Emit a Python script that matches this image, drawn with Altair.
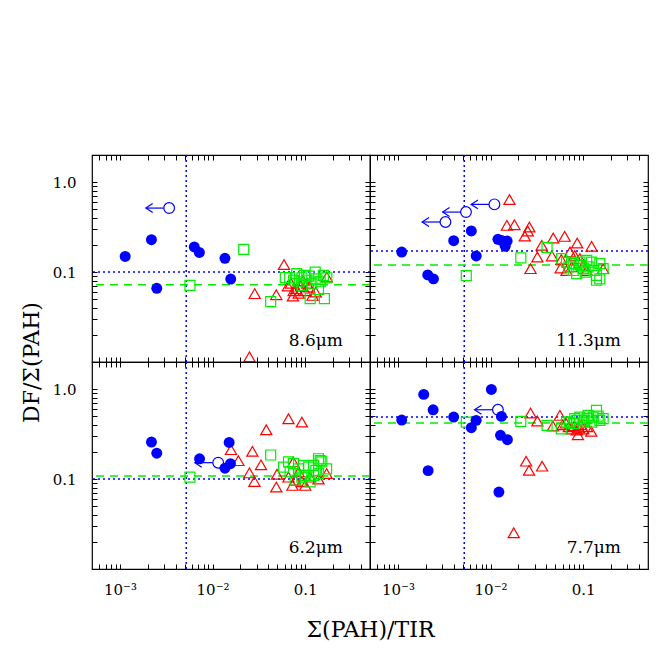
import altair as alt
import pandas as pd

# ---------------- data ----------------
X_DOMAIN = [5e-4, 0.5]
Y_DOMAIN = [0.01, 2.0]
PANEL_LABELS = ["8.6μm", "11.3μm", "6.2μm", "7.7μm"]
VLINE_X = 0.0052
BLUE_LEVEL = [0.100, 0.171, 0.100, 0.490]
GREEN_LEVEL = [0.072, 0.120, 0.108, 0.420]

# 8.6 um
p86_det_x = [0.00114, 0.00219, 0.00250, 0.00635, 0.00720, 0.0136, 0.0157]
p86_det_y = [0.149, 0.229, 0.066, 0.190, 0.165, 0.142, 0.0836]
p86_lim_x = [0.0034]
p86_lim_y = [0.514]
p86_sq_x = [0.0057, 0.0217, 0.0424, 0.061, 0.068, 0.081, 0.075, 0.092, 0.104, 0.109, 0.128,
            0.128, 0.157, 0.171, 0.139, 0.113, 0.161, 0.092, 0.086, 0.118, 0.098, 0.145]
p86_sq_y = [0.071, 0.179, 0.047, 0.087, 0.086, 0.096, 0.081, 0.086, 0.081, 0.090, 0.100,
            0.084, 0.092, 0.086, 0.064, 0.0506, 0.0506, 0.071, 0.078, 0.074, 0.092, 0.078]
p86_tri_x = [0.025, 0.0285, 0.0487, 0.059, 0.0736, 0.171, 0.070, 0.080, 0.085, 0.090, 0.100,
             0.110, 0.095, 0.120, 0.130, 0.075, 0.105, 0.065]
p86_tri_y = [0.0114, 0.0575, 0.056, 0.121, 0.054, 0.088, 0.075, 0.065, 0.058, 0.070, 0.062,
             0.068, 0.080, 0.055, 0.060, 0.062, 0.075, 0.070]

# 11.3 um
p113_det_x = [0.0011, 0.0021, 0.00242, 0.0040, 0.0062, 0.0070, 0.0120, 0.0131, 0.0151, 0.0144]
p113_det_y = [0.167, 0.093, 0.084, 0.223, 0.286, 0.151, 0.231, 0.225, 0.221, 0.193]
p113_lim_x = [0.00326, 0.00543, 0.0110]
p113_lim_y = [0.360, 0.464, 0.565]
p113_sq_x = [0.00547, 0.0212, 0.0407, 0.0585, 0.066, 0.078, 0.092, 0.109, 0.123, 0.151, 0.164,
             0.139, 0.151, 0.139, 0.100, 0.085, 0.078, 0.113, 0.070, 0.095, 0.130, 0.105]
p113_sq_y = [0.091, 0.144, 0.188, 0.141, 0.129, 0.124, 0.129, 0.135, 0.129, 0.124, 0.109,
             0.092, 0.084, 0.081, 0.109, 0.096, 0.104, 0.114, 0.114, 0.118, 0.104, 0.100]
p113_tri_x = [0.016, 0.0150, 0.0181, 0.0262, 0.0252, 0.0234, 0.0356, 0.032, 0.027, 0.0475, 0.063,
              0.046, 0.057, 0.086, 0.123, 0.058, 0.072, 0.081, 0.092, 0.100, 0.075, 0.066, 0.109, 0.164]
p113_tri_y = [0.640, 0.330, 0.336, 0.316, 0.286, 0.251, 0.198, 0.147, 0.109, 0.239, 0.249,
              0.151, 0.111, 0.210, 0.193, 0.138, 0.167, 0.153, 0.141, 0.119, 0.114, 0.104, 0.104, 0.109]

# 6.2 um
p62_det_x = [0.00219, 0.0025, 0.00724, 0.0151, 0.0156, 0.0136]
p62_det_y = [0.258, 0.194, 0.168, 0.255, 0.148, 0.132]
p62_lim_x = [0.0115]
p62_lim_y = [0.152]
p62_sq_x = [0.0057, 0.0424, 0.0585, 0.066, 0.0745, 0.0845, 0.0957, 0.109, 0.123, 0.139, 0.151,
            0.170, 0.139, 0.123, 0.100, 0.078, 0.113, 0.092, 0.0687, 0.130, 0.145]
p62_sq_y = [0.105, 0.185, 0.136, 0.155, 0.148, 0.130, 0.142, 0.136, 0.142, 0.168, 0.155,
            0.130, 0.115, 0.110, 0.110, 0.097, 0.093, 0.105, 0.120, 0.125, 0.160]
p62_tri_x = [0.066, 0.092, 0.038, 0.0158, 0.0269, 0.019, 0.0333, 0.025, 0.0283, 0.0496, 0.0487,
             0.0743, 0.0728, 0.100, 0.078, 0.139, 0.170, 0.092, 0.066, 0.113, 0.085]
p62_tri_y = [0.468, 0.430, 0.353, 0.212, 0.203, 0.160, 0.144, 0.117, 0.094, 0.113, 0.0815,
             0.155, 0.085, 0.085, 0.097, 0.100, 0.115, 0.093, 0.105, 0.105, 0.120]

# 7.7 um
p77_det_x = [0.0011, 0.0019, 0.0024, 0.00212, 0.0040, 0.0062, 0.0070, 0.0102, 0.0131, 0.0128, 0.0152, 0.0123]
p77_det_y = [0.453, 0.873, 0.589, 0.124, 0.489, 0.372, 0.449, 0.990, 0.497, 0.306, 0.274, 0.0717]
p77_lim_x = [0.012]
p77_lim_y = [0.589]
p77_sq_x = [0.00547, 0.0212, 0.0407, 0.058, 0.066, 0.071, 0.078, 0.081, 0.092, 0.100, 0.104,
            0.113, 0.123, 0.128, 0.139, 0.151, 0.164, 0.085, 0.110, 0.145]
p77_sq_y = [0.430, 0.437, 0.395, 0.362, 0.430, 0.430, 0.412, 0.470, 0.489, 0.430, 0.449,
            0.510, 0.430, 0.489, 0.579, 0.449, 0.470, 0.450, 0.470, 0.500]
p77_tri_x = [0.027, 0.032, 0.056, 0.047, 0.0242, 0.026, 0.036, 0.0178, 0.0877, 0.122, 0.060,
             0.070, 0.075, 0.080, 0.090, 0.100, 0.065, 0.110, 0.085, 0.095]
p77_tri_y = [0.541, 0.441, 0.510, 0.388, 0.158, 0.125, 0.139, 0.0253, 0.311, 0.339, 0.400,
             0.380, 0.360, 0.390, 0.370, 0.360, 0.420, 0.380, 0.350, 0.400]

PANELS = [
    (p86_det_x, p86_det_y, p86_lim_x, p86_lim_y, p86_sq_x, p86_sq_y, p86_tri_x, p86_tri_y),
    (p113_det_x, p113_det_y, p113_lim_x, p113_lim_y, p113_sq_x, p113_sq_y, p113_tri_x, p113_tri_y),
    (p62_det_x, p62_det_y, p62_lim_x, p62_lim_y, p62_sq_x, p62_sq_y, p62_tri_x, p62_tri_y),
    (p77_det_x, p77_det_y, p77_lim_x, p77_lim_y, p77_sq_x, p77_sq_y, p77_tri_x, p77_tri_y),
]

# tick positions (log axes)
X_TICKS = [0.0006, 0.0007, 0.0008, 0.0009, 0.001,
           0.002, 0.003, 0.004, 0.005, 0.006, 0.007, 0.008, 0.009, 0.01,
           0.02, 0.03, 0.04, 0.05, 0.06, 0.07, 0.08, 0.09, 0.1,
           0.2, 0.3, 0.4]
Y_TICKS = [0.02, 0.03, 0.04, 0.05, 0.06, 0.07, 0.08, 0.09, 0.1,
           0.2, 0.3, 0.4, 0.5, 0.6, 0.7, 0.8, 0.9, 1.0]

# ---------------- style ----------------
W, H = 278, 207
BLUE = "#0000ff"
RED = "#ff0000"
GREEN = "#00ee00"
FONT = "DejaVu Serif"
ARROW_FACTOR = 0.56
TICK = 5

xscale = alt.Scale(type="log", domain=X_DOMAIN, nice=False)
yscale = alt.Scale(type="log", domain=Y_DOMAIN, nice=False)

X_LABEL_EXPR = ("abs(datum.value - 0.001) < 1e-9 ? '10⁻³' : "
                "abs(datum.value - 0.01) < 1e-9 ? '10⁻²' : "
                "abs(datum.value - 0.1) < 1e-9 ? '0.1' : ''")
Y_LABEL_EXPR = ("abs(datum.value - 1) < 1e-9 ? '1.0' : "
                "abs(datum.value - 0.1) < 1e-9 ? '0.1' : ''")


def frame_axis(orient, values, **kw):
    # ticks point inward: the axis is moved inside by the tick length
    if "title" not in kw:
        kw["title"] = None
    if "labels" not in kw:
        kw["labels"] = False
    return alt.Axis(orient=orient, values=values, tickSize=TICK, offset=-TICK,
                    domain=False, grid=False, tickColor="black", tickWidth=1,
                    labelOverlap=False, **kw)


def panel(i, show_x, show_y):
    det_x, det_y, lim_x, lim_y, sq_x, sq_y, tri_x, tri_y = PANELS[i]

    xkw = {}
    if show_x:
        xkw = dict(labels=True, labelExpr=X_LABEL_EXPR, labelPadding=13, labelFontSize=15)
        if i == 2:
            xkw.update(title="Σ(PAH)/TIR", titleX=W, titleFontSize=22, titlePadding=22)
    ykw = {}
    if show_y:
        ykw = dict(labels=True, labelExpr=Y_LABEL_EXPR, labelPadding=16, labelFontSize=15)
        if i == 0:
            ykw.update(title="DF/Σ(PAH)", titleY=H, titleFontSize=22, titlePadding=9)

    vline = alt.Chart(pd.DataFrame({"v": [VLINE_X]})).mark_rule(
        color=BLUE, strokeDash=[2, 3], strokeWidth=1.5).encode(
        x=alt.X("v:Q", scale=xscale, axis=frame_axis("bottom", X_TICKS, **xkw)))
    hblue = alt.Chart(pd.DataFrame({"v": [BLUE_LEVEL[i]]})).mark_rule(
        color=BLUE, strokeDash=[2, 3], strokeWidth=1.5).encode(
        y=alt.Y("v:Q", scale=yscale, axis=frame_axis("left", Y_TICKS, **ykw)))
    hgreen = alt.Chart(pd.DataFrame({"v": [GREEN_LEVEL[i]]})).mark_rule(
        color=GREEN, strokeDash=[8, 6], strokeWidth=1.5).encode(
        y=alt.Y("v:Q", scale=yscale, axis=None))

    tri = alt.Chart(pd.DataFrame({"x": tri_x, "y": tri_y})).mark_point(
        shape="triangle-up", filled=False, color=RED, size=125, strokeWidth=1.2, opacity=1).encode(
        x=alt.X("x:Q", scale=xscale, axis=frame_axis("top", X_TICKS)),
        y=alt.Y("y:Q", scale=yscale, axis=frame_axis("right", Y_TICKS)))
    sq = alt.Chart(pd.DataFrame({"x": sq_x, "y": sq_y})).mark_point(
        shape="square", filled=False, color=GREEN, size=100, strokeWidth=1.2, opacity=1).encode(
        x=alt.X("x:Q", scale=xscale, axis=None), y=alt.Y("y:Q", scale=yscale, axis=None))
    det = alt.Chart(pd.DataFrame({"x": det_x, "y": det_y})).mark_circle(
        color=BLUE, size=120, opacity=1).encode(
        x=alt.X("x:Q", scale=xscale, axis=None), y=alt.Y("y:Q", scale=yscale, axis=None))

    lim_df = pd.DataFrame({"x": lim_x, "y": lim_y})
    lim_df["xt"] = lim_df["x"] * ARROW_FACTOR
    arrow = alt.Chart(lim_df).mark_rule(color=BLUE, strokeWidth=1.2).encode(
        x=alt.X("xt:Q", scale=xscale, axis=None), x2="x:Q",
        y=alt.Y("y:Q", scale=yscale, axis=None))
    head = alt.Chart(lim_df).mark_point(
        shape="M1,-0.65L0,0L1,0.65", filled=False, color=BLUE, size=190, strokeWidth=1.2, opacity=1).encode(
        x=alt.X("xt:Q", scale=xscale, axis=None), y=alt.Y("y:Q", scale=yscale, axis=None))
    lim = alt.Chart(lim_df).mark_point(
        shape="circle", filled=True, fill="white", stroke=BLUE, size=115, strokeWidth=1.2, opacity=1).encode(
        x=alt.X("x:Q", scale=xscale, axis=None), y=alt.Y("y:Q", scale=yscale, axis=None))

    label = alt.Chart(pd.DataFrame({"t": [PANEL_LABELS[i]]})).mark_text(
        align="right", baseline="alphabetic", font=FONT, fontSize=17, color="black").encode(
        x=alt.value(W - 27), y=alt.value(H - 16), text="t:N")

    layers = [vline, hblue, hgreen, tri, sq, arrow, head, lim, det, label]
    return alt.layer(*layers).properties(width=W, height=H).resolve_axis(
        x="independent", y="independent")


chart = alt.concat(
    panel(0, False, True), panel(1, False, False),
    panel(2, True, True), panel(3, True, False),
    columns=2, spacing=0, bounds="flush",
).properties(
    padding={"left": 11, "top": 145, "right": 5, "bottom": 5}
).configure_view(stroke="black", strokeWidth=1.2).configure_axis(
    labelFont=FONT, titleFont=FONT, titleFontWeight="normal", labelColor="black", titleColor="black"
)

chart.save("out.html", embed_options={"renderer": "svg", "actions": False})
